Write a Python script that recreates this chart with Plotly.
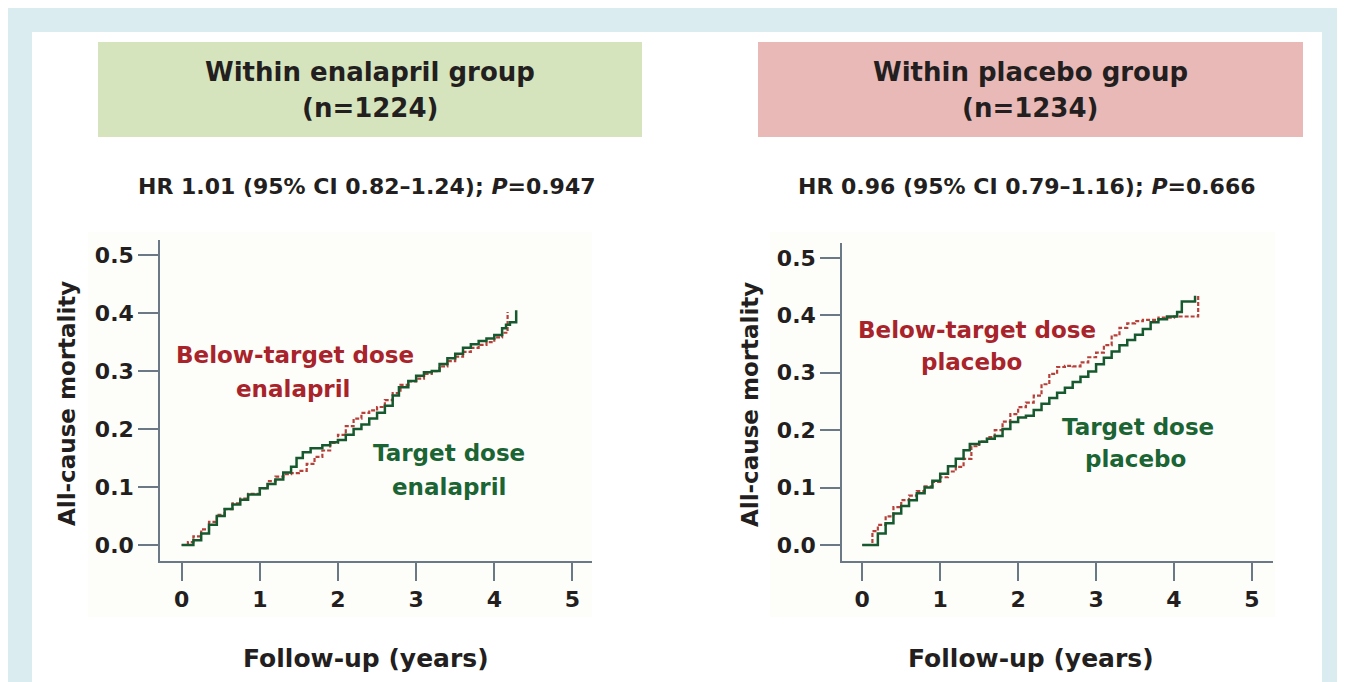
import plotly.graph_objects as go

# the page puts the figure 8px from the top-left corner of the window
OX, OY = 8, 8
W, H = 1345 - OX, 682 - OY

# ---------------- data ----------------
enal_target_x = [0, 0.08, 0.15, 0.25, 0.35, 0.45, 0.55, 0.65, 0.75, 0.85, 1.0, 1.1, 1.2, 1.3, 1.4,
                 1.47, 1.55, 1.65, 1.8, 1.9, 2.0, 2.1, 2.2, 2.3, 2.4, 2.5, 2.6, 2.7, 2.78, 2.9,
                 3.0, 3.1, 3.2, 3.3, 3.4, 3.5, 3.6, 3.7, 3.8, 3.9, 4.0, 4.1, 4.15, 4.2, 4.28]
enal_target_y = [0, 0.0, 0.008, 0.02, 0.035, 0.05, 0.062, 0.07, 0.078, 0.087, 0.098, 0.105, 0.113,
                 0.125, 0.135, 0.15, 0.16, 0.167, 0.172, 0.177, 0.181, 0.19, 0.2, 0.208, 0.218,
                 0.228, 0.24, 0.258, 0.272, 0.283, 0.292, 0.298, 0.30, 0.312, 0.322, 0.33, 0.34,
                 0.346, 0.352, 0.356, 0.362, 0.374, 0.38, 0.384, 0.405]

enal_below_x = [0, 0.08, 0.15, 0.25, 0.35, 0.45, 0.55, 0.65, 0.75, 0.85, 1.0, 1.1, 1.2, 1.3, 1.4,
                1.5, 1.6, 1.7, 1.8, 1.9, 2.0, 2.1, 2.2, 2.3, 2.4, 2.5, 2.6, 2.7, 2.8, 2.9, 3.0,
                3.1, 3.2, 3.3, 3.4, 3.5, 3.6, 3.7, 3.8, 3.9, 4.0, 4.1, 4.17]
enal_below_y = [0, 0.005, 0.015, 0.027, 0.04, 0.052, 0.062, 0.072, 0.08, 0.088, 0.098, 0.11, 0.118,
                0.122, 0.124, 0.128, 0.14, 0.152, 0.163, 0.176, 0.19, 0.205, 0.218, 0.228, 0.232,
                0.238, 0.25, 0.262, 0.276, 0.282, 0.287, 0.295, 0.30, 0.308, 0.317, 0.325, 0.333,
                0.34, 0.345, 0.35, 0.358, 0.366, 0.402]

plac_target_x = [0, 0.1, 0.2, 0.3, 0.4, 0.5, 0.6, 0.7, 0.8, 0.9, 1.0, 1.1, 1.2, 1.3, 1.38, 1.5,
                 1.6, 1.7, 1.8, 1.9, 2.0, 2.1, 2.2, 2.3, 2.4, 2.5, 2.6, 2.7, 2.8, 2.9, 3.0, 3.1,
                 3.2, 3.3, 3.4, 3.5, 3.6, 3.7, 3.8, 3.91, 4.04, 4.1, 4.27]
plac_target_y = [0, 0.0, 0.02, 0.038, 0.055, 0.068, 0.078, 0.09, 0.1, 0.112, 0.124, 0.137, 0.15,
                 0.165, 0.176, 0.18, 0.185, 0.19, 0.202, 0.214, 0.222, 0.225, 0.235, 0.246, 0.256,
                 0.265, 0.274, 0.284, 0.293, 0.302, 0.315, 0.326, 0.337, 0.348, 0.357, 0.366,
                 0.376, 0.388, 0.393, 0.398, 0.406, 0.424, 0.434]

plac_below_x = [0, 0.13, 0.2, 0.3, 0.4, 0.5, 0.6, 0.7, 0.8, 0.9, 1.0, 1.1, 1.2, 1.3, 1.4, 1.5,
                1.6, 1.7, 1.8, 1.9, 2.0, 2.1, 2.2, 2.3, 2.4, 2.5, 2.6, 2.7, 2.8, 2.9, 3.0, 3.1,
                3.2, 3.3, 3.4, 3.5, 3.6, 3.8, 4.0, 4.31]
plac_below_y = [0, 0.024, 0.035, 0.05, 0.066, 0.078, 0.086, 0.094, 0.102, 0.11, 0.118, 0.128,
                0.136, 0.15, 0.172, 0.18, 0.188, 0.2, 0.215, 0.228, 0.24, 0.248, 0.26, 0.28,
                0.298, 0.31, 0.312, 0.311, 0.318, 0.327, 0.335, 0.348, 0.365, 0.378, 0.386,
                0.39, 0.392, 0.396, 0.398, 0.436]

x_ticks = [0, 1, 2, 3, 4, 5]
y_ticks = [0.0, 0.1, 0.2, 0.3, 0.4, 0.5]

titles = [("Within enalapril group", "(n=1224)"), ("Within placebo group", "(n=1234)")]
hr_texts = ["HR 1.01 (95% CI 0.82\u20131.24); <i>P</i>=0.947",
            "HR 0.96 (95% CI 0.79\u20131.16); <i>P</i>=0.666"]
below_labels = [("Below-target dose", "enalapril"), ("Below-target dose", "placebo")]
target_labels = [("Target dose", "enalapril"), ("Target dose", "placebo")]
x_title = "Follow-up (years)"
y_title = "All-cause mortality"

# ---------------- styling ----------------
FONT = "DejaVu Sans"
TXT = "#231f20"
RED_TXT = "#a8232a"
GRN_TXT = "#1b6433"
GRN_LINE = "#17592e"
RED_LINE = "#b8403a"
AX = "#6b7987"


def px(x):
    return (x - OX) / W


def py(y):
    return 1 - (y - OY) / H


fig = go.Figure()

fig.add_trace(go.Scatter(x=enal_below_x, y=enal_below_y, mode="lines", line_shape="hv",
                         line=dict(color=RED_LINE, width=2.2, dash="4px,2px"),
                         xaxis="x", yaxis="y", showlegend=False))
fig.add_trace(go.Scatter(x=enal_target_x, y=enal_target_y, mode="lines", line_shape="hv",
                         line=dict(color=GRN_LINE, width=2.5),
                         xaxis="x", yaxis="y", showlegend=False))
fig.add_trace(go.Scatter(x=plac_below_x, y=plac_below_y, mode="lines", line_shape="hv",
                         line=dict(color=RED_LINE, width=2.2, dash="4px,2px"),
                         xaxis="x2", yaxis="y2", showlegend=False))
fig.add_trace(go.Scatter(x=plac_target_x, y=plac_target_y, mode="lines", line_shape="hv",
                         line=dict(color=GRN_LINE, width=2.5),
                         xaxis="x2", yaxis="y2", showlegend=False))

tickfont = dict(family=FONT, size=22, color=TXT, weight="bold")
common_x = dict(showline=True, linecolor=AX, linewidth=1.5, ticks="outside", ticklen=18,
                tickcolor=AX, tickwidth=1.5, showgrid=False, zeroline=False,
                tickvals=x_ticks, ticktext=[str(v) for v in x_ticks], tickfont=tickfont,
                fixedrange=True)
common_y = dict(showline=True, linecolor=AX, linewidth=1.5, ticks="outside", ticklen=20,
                tickcolor=AX, tickwidth=1.5, showgrid=False, zeroline=False,
                tickvals=y_ticks, ticktext=["%.1f" % v for v in y_ticks], tickfont=tickfont,
                fixedrange=True)

# panel geometry (window pixels)
L_x0, L_x1 = 160, 592
R_x0, R_x1 = 842, 1273
ax_bottom = 561
L_top, R_top = 240, 243

fig.update_layout(
    width=W, height=H, margin=dict(l=0, r=0, t=0, b=0),
    paper_bgcolor="white", plot_bgcolor="rgba(0,0,0,0)",
    xaxis=dict(domain=[px(L_x0), px(L_x1)], range=[-0.277, 5.25], anchor="y", **common_x),
    yaxis=dict(domain=[py(ax_bottom), py(L_top)], range=[-0.0276, 0.526], anchor="x", **common_y),
    xaxis2=dict(domain=[px(R_x0), px(R_x1)], range=[-0.26, 5.27], anchor="y2", **common_x),
    yaxis2=dict(domain=[py(ax_bottom), py(R_top)], range=[-0.0279, 0.526], anchor="x2", **common_y),
)

shapes = []
# outer light-blue frame and white panel
shapes.append(dict(type="rect", xref="paper", yref="paper", x0=0, x1=1, y0=0, y1=1,
                   fillcolor="#dbecf0", line_width=0, layer="below"))
shapes.append(dict(type="rect", xref="paper", yref="paper", x0=px(32), x1=px(1322), y0=0, y1=py(32),
                   fillcolor="white", line_width=0, layer="below"))
# faint off-white plot backgrounds
for x0, x1 in [(88, 592), (770, 1275)]:
    shapes.append(dict(type="rect", xref="paper", yref="paper", x0=px(x0), x1=px(x1),
                       y0=py(617), y1=py(232), fillcolor="#fdfdfa", line_width=0, layer="below"))
# title boxes
shapes.append(dict(type="rect", xref="paper", yref="paper", x0=px(98), x1=px(642), y0=py(137), y1=py(42),
                   fillcolor="#d5e4bd", line_width=0, layer="below"))
shapes.append(dict(type="rect", xref="paper", yref="paper", x0=px(758), x1=px(1303), y0=py(137), y1=py(42),
                   fillcolor="#e8b9b6", line_width=0, layer="below"))
fig.update_layout(shapes=shapes)


def ann(text, x, y, size, color=TXT, angle=0):
    fig.add_annotation(text=text, xref="paper", yref="paper", x=px(x), y=py(y),
                       xanchor="center", yanchor="middle", showarrow=False, textangle=angle,
                       font=dict(family=FONT, size=size, color=color, weight="bold"))


centers = [370, 1030]
for i, c in enumerate(centers):
    ann(titles[i][0], c, 72, 26)
    ann(titles[i][1], c, 108, 26)
    ann(hr_texts[i], [367, 1027][i], 186, 22)

# axis titles
ann(y_title, 67, 404, 23, angle=-90)
ann(y_title, 750, 405, 23, angle=-90)
ann(x_title, 366, 658, 25)
ann(x_title, 1031, 658, 25)

# curve labels
ann(below_labels[0][0], 295, 355, 23, RED_TXT)
ann(below_labels[0][1], 293, 389, 23, RED_TXT)
ann(target_labels[0][0], 449, 453, 23, GRN_TXT)
ann(target_labels[0][1], 449, 487, 23, GRN_TXT)
ann(below_labels[1][0], 977, 330, 23, RED_TXT)
ann(below_labels[1][1], 971, 362, 23, RED_TXT)
ann(target_labels[1][0], 1138, 427, 23, GRN_TXT)
ann(target_labels[1][1], 1135, 459, 23, GRN_TXT)

fig.write_html("out.html")
